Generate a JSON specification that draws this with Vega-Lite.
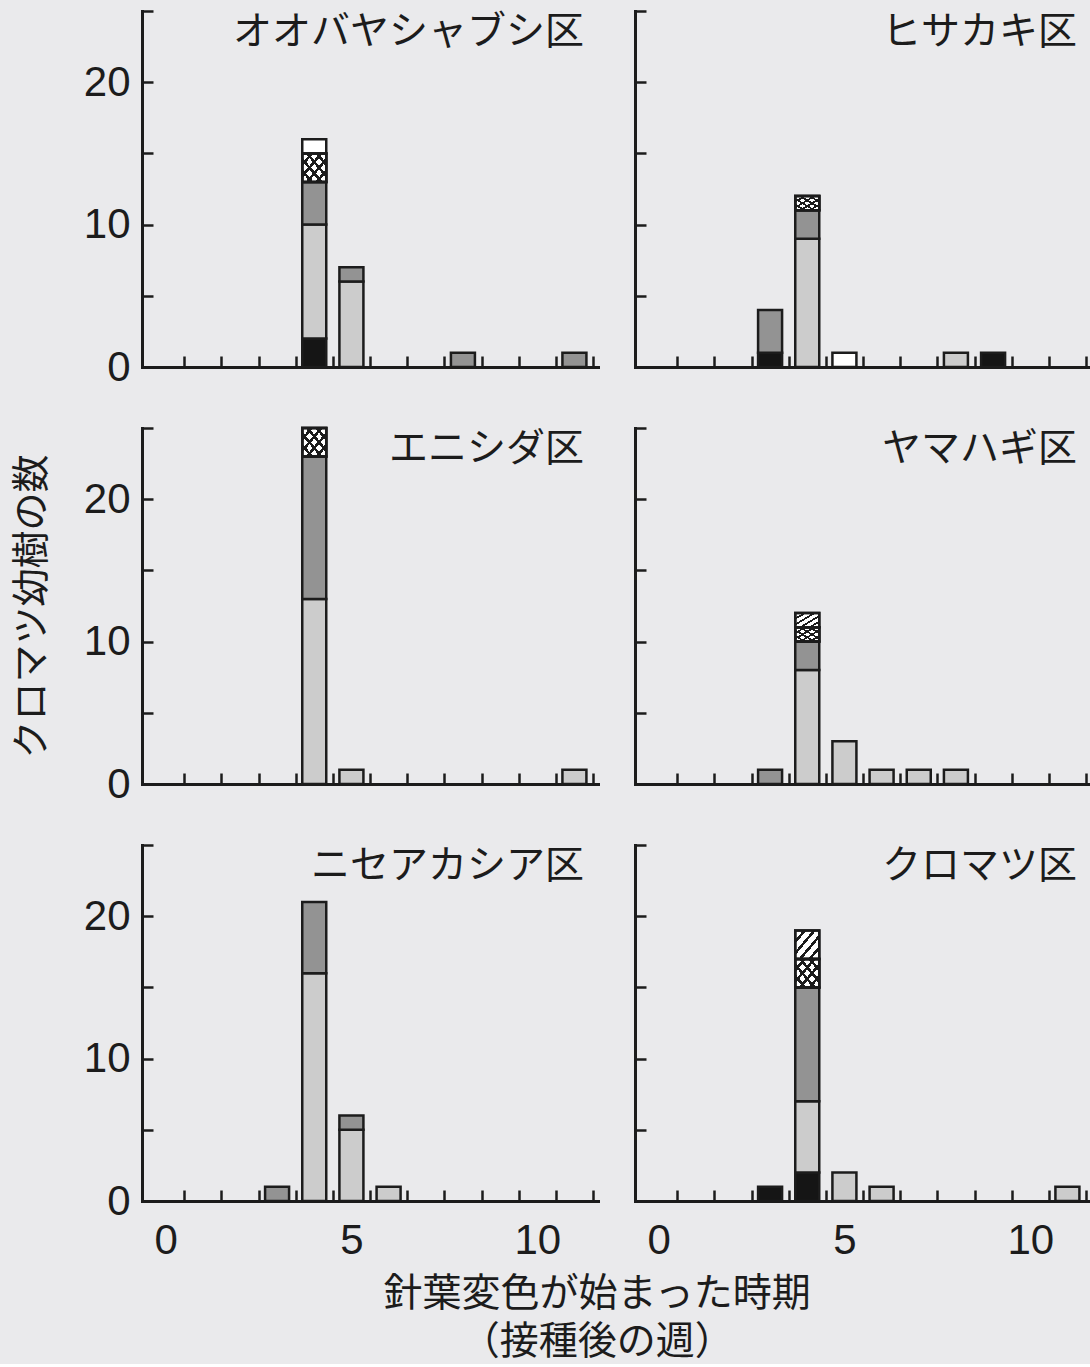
{
  "$schema": "https://vega.github.io/schema/vega-lite/v6.json",
  "background": "#eaeaec",
  "padding": {"left": 13, "right": 2, "top": 9, "bottom": 2},
  "datasets": {
    "types": [
      {"type": "solid", "rank": 1},
      {"type": "dots", "rank": 2},
      {"type": "dense", "rank": 3},
      {"type": "cross", "rank": 4},
      {"type": "hatch", "rank": 5},
      {"type": "open", "rank": 6}
    ],
    "d": [
      {"plot": "オオバヤシャブシ区", "week": 4, "type": "solid", "n": 2},
      {"plot": "オオバヤシャブシ区", "week": 4, "type": "dots", "n": 8},
      {"plot": "オオバヤシャブシ区", "week": 4, "type": "dense", "n": 3},
      {"plot": "オオバヤシャブシ区", "week": 4, "type": "cross", "n": 2},
      {"plot": "オオバヤシャブシ区", "week": 4, "type": "open", "n": 1},
      {"plot": "オオバヤシャブシ区", "week": 5, "type": "dots", "n": 6},
      {"plot": "オオバヤシャブシ区", "week": 5, "type": "dense", "n": 1},
      {"plot": "オオバヤシャブシ区", "week": 8, "type": "dense", "n": 1},
      {"plot": "オオバヤシャブシ区", "week": 11, "type": "dense", "n": 1},
      {"plot": "ヒサカキ区", "week": 3, "type": "solid", "n": 1},
      {"plot": "ヒサカキ区", "week": 3, "type": "dense", "n": 3},
      {"plot": "ヒサカキ区", "week": 4, "type": "dots", "n": 9},
      {"plot": "ヒサカキ区", "week": 4, "type": "dense", "n": 2},
      {"plot": "ヒサカキ区", "week": 4, "type": "cross", "n": 1},
      {"plot": "ヒサカキ区", "week": 5, "type": "open", "n": 1},
      {"plot": "ヒサカキ区", "week": 8, "type": "dots", "n": 1},
      {"plot": "ヒサカキ区", "week": 9, "type": "solid", "n": 1},
      {"plot": "エニシダ区", "week": 4, "type": "dots", "n": 13},
      {"plot": "エニシダ区", "week": 4, "type": "dense", "n": 10},
      {"plot": "エニシダ区", "week": 4, "type": "cross", "n": 2},
      {"plot": "エニシダ区", "week": 5, "type": "dots", "n": 1},
      {"plot": "エニシダ区", "week": 11, "type": "dots", "n": 1},
      {"plot": "ヤマハギ区", "week": 3, "type": "dense", "n": 1},
      {"plot": "ヤマハギ区", "week": 4, "type": "dots", "n": 8},
      {"plot": "ヤマハギ区", "week": 4, "type": "dense", "n": 2},
      {"plot": "ヤマハギ区", "week": 4, "type": "cross", "n": 1},
      {"plot": "ヤマハギ区", "week": 4, "type": "hatch", "n": 1},
      {"plot": "ヤマハギ区", "week": 5, "type": "dots", "n": 3},
      {"plot": "ヤマハギ区", "week": 6, "type": "dots", "n": 1},
      {"plot": "ヤマハギ区", "week": 7, "type": "dots", "n": 1},
      {"plot": "ヤマハギ区", "week": 8, "type": "dots", "n": 1},
      {"plot": "ニセアカシア区", "week": 3, "type": "dense", "n": 1},
      {"plot": "ニセアカシア区", "week": 4, "type": "dots", "n": 16},
      {"plot": "ニセアカシア区", "week": 4, "type": "dense", "n": 5},
      {"plot": "ニセアカシア区", "week": 5, "type": "dots", "n": 5},
      {"plot": "ニセアカシア区", "week": 5, "type": "dense", "n": 1},
      {"plot": "ニセアカシア区", "week": 6, "type": "dots", "n": 1},
      {"plot": "クロマツ区", "week": 3, "type": "solid", "n": 1},
      {"plot": "クロマツ区", "week": 4, "type": "solid", "n": 2},
      {"plot": "クロマツ区", "week": 4, "type": "dots", "n": 5},
      {"plot": "クロマツ区", "week": 4, "type": "dense", "n": 8},
      {"plot": "クロマツ区", "week": 4, "type": "cross", "n": 2},
      {"plot": "クロマツ区", "week": 4, "type": "hatch", "n": 2},
      {"plot": "クロマツ区", "week": 5, "type": "dots", "n": 2},
      {"plot": "クロマツ区", "week": 6, "type": "dots", "n": 1},
      {"plot": "クロマツ区", "week": 11, "type": "dots", "n": 1}
    ]
  },
  "title": {
    "text": ["針葉変色が始まった時期", "（接種後の週）"],
    "orient": "bottom",
    "anchor": "middle",
    "fontSize": 39,
    "lineHeight": 48,
    "offset": 19,
    "dx": 45,
    "dy": -5,
    "baseline": "top"
  },
  "columns": 2,
  "spacing": {"row": 38, "column": 35},
  "concat": [
    {
      "width": 456, "height": 356,
      "title": {"text": "オオバヤシャブシ区"},
      "data": {"name": "d"},
      "transform": [{"filter": {"field": "plot", "equal": "オオバヤシャブシ区"}},
                    {"lookup": "type", "from": {"data": {"name": "types"}, "key": "type", "fields": ["rank"]}},
                    {"stack": "n", "groupby": ["week"], "sort": [{"field": "rank", "order": "ascending"}], "as": ["y0", "y1"]}],
      "encoding": {
        "x": {"field": "week", "type": "quantitative", "scale": {"domain": [-0.5, 11.5], "nice": false, "zero": false},
              "axis": {"values": [0, 0.5, 1.5, 2.5, 3.5, 4.5, 5, 5.5, 6.5, 7.5, 8.5, 9.5, 10, 10.5, 11.5], "labels": false,
                       "tickColor": {"condition": {"test": "datum.value % 1 == 0", "value": "transparent"}, "value": "#1c1c1c"}}},
        "y": {"field": "y1", "type": "quantitative", "scale": {"domain": [0, 25], "nice": false},
              "axis": {"values": [0, 5, 10, 15, 20, 25], "labelExpr": "datum.value % 10 == 0 ? datum.label : ''",
                       "labelFontSize": {"condition": {"test": "datum.value % 10 != 0", "value": 0}, "value": 42}}},
        "y2": {"field": "y0"}
      },
      "layer": [
        {"mark": {"type": "bar", "width": 24, "stroke": "#1c1c1c", "strokeWidth": 2.5},
         "encoding": {"color": {"field": "type", "type": "nominal", "scale": {"domain": ["solid", "dots", "dense", "cross", "hatch", "open"], "range": ["#151515", "#cccccc", "#939393", "#ffffff", "#ffffff", "#ffffff"]}, "legend": null}}},
        {"transform": [{"filter": "datum.type == 'cross' || datum.type == 'hatch'"}],
         "mark": {"type": "bar", "width": 24, "stroke": "#1c1c1c", "strokeWidth": 2.5,
                  "fill": {"gradient": "linear", "x1": 0, "y1": 0, "x2": 1, "y2": 1, "stops": [{"offset": 0, "color": "rgba(0,0,0,0)"}, {"offset": 0.165, "color": "rgba(0,0,0,0)"}, {"offset": 0.165, "color": "#1c1c1c"}, {"offset": 0.235, "color": "#1c1c1c"}, {"offset": 0.235, "color": "rgba(0,0,0,0)"}, {"offset": 0.365, "color": "rgba(0,0,0,0)"}, {"offset": 0.365, "color": "#1c1c1c"}, {"offset": 0.435, "color": "#1c1c1c"}, {"offset": 0.435, "color": "rgba(0,0,0,0)"}, {"offset": 0.565, "color": "rgba(0,0,0,0)"}, {"offset": 0.565, "color": "#1c1c1c"}, {"offset": 0.635, "color": "#1c1c1c"}, {"offset": 0.635, "color": "rgba(0,0,0,0)"}, {"offset": 0.765, "color": "rgba(0,0,0,0)"}, {"offset": 0.765, "color": "#1c1c1c"}, {"offset": 0.835, "color": "#1c1c1c"}, {"offset": 0.835, "color": "rgba(0,0,0,0)"}, {"offset": 1, "color": "rgba(0,0,0,0)"}]}}},
        {"transform": [{"filter": "datum.type == 'cross'"}],
         "mark": {"type": "bar", "width": 24, "stroke": "#1c1c1c", "strokeWidth": 2.5,
                  "fill": {"gradient": "linear", "x1": 0, "y1": 1, "x2": 1, "y2": 0, "stops": [{"offset": 0, "color": "rgba(0,0,0,0)"}, {"offset": 0.165, "color": "rgba(0,0,0,0)"}, {"offset": 0.165, "color": "#1c1c1c"}, {"offset": 0.235, "color": "#1c1c1c"}, {"offset": 0.235, "color": "rgba(0,0,0,0)"}, {"offset": 0.365, "color": "rgba(0,0,0,0)"}, {"offset": 0.365, "color": "#1c1c1c"}, {"offset": 0.435, "color": "#1c1c1c"}, {"offset": 0.435, "color": "rgba(0,0,0,0)"}, {"offset": 0.565, "color": "rgba(0,0,0,0)"}, {"offset": 0.565, "color": "#1c1c1c"}, {"offset": 0.635, "color": "#1c1c1c"}, {"offset": 0.635, "color": "rgba(0,0,0,0)"}, {"offset": 0.765, "color": "rgba(0,0,0,0)"}, {"offset": 0.765, "color": "#1c1c1c"}, {"offset": 0.835, "color": "#1c1c1c"}, {"offset": 0.835, "color": "rgba(0,0,0,0)"}, {"offset": 1, "color": "rgba(0,0,0,0)"}]}}}
      ]
    },
    {
      "width": 456, "height": 356,
      "title": {"text": "ヒサカキ区"},
      "data": {"name": "d"},
      "transform": [{"filter": {"field": "plot", "equal": "ヒサカキ区"}},
                    {"lookup": "type", "from": {"data": {"name": "types"}, "key": "type", "fields": ["rank"]}},
                    {"stack": "n", "groupby": ["week"], "sort": [{"field": "rank", "order": "ascending"}], "as": ["y0", "y1"]}],
      "encoding": {
        "x": {"field": "week", "type": "quantitative", "scale": {"domain": [-0.5, 11.5], "nice": false, "zero": false},
              "axis": {"values": [0, 0.5, 1.5, 2.5, 3.5, 4.5, 5, 5.5, 6.5, 7.5, 8.5, 9.5, 10, 10.5, 11.5], "labels": false,
                       "tickColor": {"condition": {"test": "datum.value % 1 == 0", "value": "transparent"}, "value": "#1c1c1c"}}},
        "y": {"field": "y1", "type": "quantitative", "scale": {"domain": [0, 25], "nice": false},
              "axis": {"values": [0, 5, 10, 15, 20, 25], "labels": false}},
        "y2": {"field": "y0"}
      },
      "layer": [
        {"mark": {"type": "bar", "width": 24, "stroke": "#1c1c1c", "strokeWidth": 2.5},
         "encoding": {"color": {"field": "type", "type": "nominal", "scale": {"domain": ["solid", "dots", "dense", "cross", "hatch", "open"], "range": ["#151515", "#cccccc", "#939393", "#ffffff", "#ffffff", "#ffffff"]}, "legend": null}}},
        {"transform": [{"filter": "datum.type == 'cross' || datum.type == 'hatch'"}],
         "mark": {"type": "bar", "width": 24, "stroke": "#1c1c1c", "strokeWidth": 2.5,
                  "fill": {"gradient": "linear", "x1": 0, "y1": 0, "x2": 1, "y2": 1, "stops": [{"offset": 0, "color": "rgba(0,0,0,0)"}, {"offset": 0.165, "color": "rgba(0,0,0,0)"}, {"offset": 0.165, "color": "#1c1c1c"}, {"offset": 0.235, "color": "#1c1c1c"}, {"offset": 0.235, "color": "rgba(0,0,0,0)"}, {"offset": 0.365, "color": "rgba(0,0,0,0)"}, {"offset": 0.365, "color": "#1c1c1c"}, {"offset": 0.435, "color": "#1c1c1c"}, {"offset": 0.435, "color": "rgba(0,0,0,0)"}, {"offset": 0.565, "color": "rgba(0,0,0,0)"}, {"offset": 0.565, "color": "#1c1c1c"}, {"offset": 0.635, "color": "#1c1c1c"}, {"offset": 0.635, "color": "rgba(0,0,0,0)"}, {"offset": 0.765, "color": "rgba(0,0,0,0)"}, {"offset": 0.765, "color": "#1c1c1c"}, {"offset": 0.835, "color": "#1c1c1c"}, {"offset": 0.835, "color": "rgba(0,0,0,0)"}, {"offset": 1, "color": "rgba(0,0,0,0)"}]}}},
        {"transform": [{"filter": "datum.type == 'cross'"}],
         "mark": {"type": "bar", "width": 24, "stroke": "#1c1c1c", "strokeWidth": 2.5,
                  "fill": {"gradient": "linear", "x1": 0, "y1": 1, "x2": 1, "y2": 0, "stops": [{"offset": 0, "color": "rgba(0,0,0,0)"}, {"offset": 0.165, "color": "rgba(0,0,0,0)"}, {"offset": 0.165, "color": "#1c1c1c"}, {"offset": 0.235, "color": "#1c1c1c"}, {"offset": 0.235, "color": "rgba(0,0,0,0)"}, {"offset": 0.365, "color": "rgba(0,0,0,0)"}, {"offset": 0.365, "color": "#1c1c1c"}, {"offset": 0.435, "color": "#1c1c1c"}, {"offset": 0.435, "color": "rgba(0,0,0,0)"}, {"offset": 0.565, "color": "rgba(0,0,0,0)"}, {"offset": 0.565, "color": "#1c1c1c"}, {"offset": 0.635, "color": "#1c1c1c"}, {"offset": 0.635, "color": "rgba(0,0,0,0)"}, {"offset": 0.765, "color": "rgba(0,0,0,0)"}, {"offset": 0.765, "color": "#1c1c1c"}, {"offset": 0.835, "color": "#1c1c1c"}, {"offset": 0.835, "color": "rgba(0,0,0,0)"}, {"offset": 1, "color": "rgba(0,0,0,0)"}]}}}
      ]
    },
    {
      "width": 456, "height": 356,
      "title": {"text": "エニシダ区"},
      "data": {"name": "d"},
      "transform": [{"filter": {"field": "plot", "equal": "エニシダ区"}},
                    {"lookup": "type", "from": {"data": {"name": "types"}, "key": "type", "fields": ["rank"]}},
                    {"stack": "n", "groupby": ["week"], "sort": [{"field": "rank", "order": "ascending"}], "as": ["y0", "y1"]}],
      "encoding": {
        "x": {"field": "week", "type": "quantitative", "scale": {"domain": [-0.5, 11.5], "nice": false, "zero": false},
              "axis": {"values": [0, 0.5, 1.5, 2.5, 3.5, 4.5, 5, 5.5, 6.5, 7.5, 8.5, 9.5, 10, 10.5, 11.5], "labels": false,
                       "tickColor": {"condition": {"test": "datum.value % 1 == 0", "value": "transparent"}, "value": "#1c1c1c"}}},
        "y": {"field": "y1", "type": "quantitative", "scale": {"domain": [0, 25], "nice": false},
              "axis": {"values": [0, 5, 10, 15, 20, 25], "labelExpr": "datum.value % 10 == 0 ? datum.label : ''",
                       "labelFontSize": {"condition": {"test": "datum.value % 10 != 0", "value": 0}, "value": 42},
                       "title": "クロマツ幼樹の数", "titlePadding": 32}},
        "y2": {"field": "y0"}
      },
      "layer": [
        {"mark": {"type": "bar", "width": 24, "stroke": "#1c1c1c", "strokeWidth": 2.5},
         "encoding": {"color": {"field": "type", "type": "nominal", "scale": {"domain": ["solid", "dots", "dense", "cross", "hatch", "open"], "range": ["#151515", "#cccccc", "#939393", "#ffffff", "#ffffff", "#ffffff"]}, "legend": null}}},
        {"transform": [{"filter": "datum.type == 'cross' || datum.type == 'hatch'"}],
         "mark": {"type": "bar", "width": 24, "stroke": "#1c1c1c", "strokeWidth": 2.5,
                  "fill": {"gradient": "linear", "x1": 0, "y1": 0, "x2": 1, "y2": 1, "stops": [{"offset": 0, "color": "rgba(0,0,0,0)"}, {"offset": 0.165, "color": "rgba(0,0,0,0)"}, {"offset": 0.165, "color": "#1c1c1c"}, {"offset": 0.235, "color": "#1c1c1c"}, {"offset": 0.235, "color": "rgba(0,0,0,0)"}, {"offset": 0.365, "color": "rgba(0,0,0,0)"}, {"offset": 0.365, "color": "#1c1c1c"}, {"offset": 0.435, "color": "#1c1c1c"}, {"offset": 0.435, "color": "rgba(0,0,0,0)"}, {"offset": 0.565, "color": "rgba(0,0,0,0)"}, {"offset": 0.565, "color": "#1c1c1c"}, {"offset": 0.635, "color": "#1c1c1c"}, {"offset": 0.635, "color": "rgba(0,0,0,0)"}, {"offset": 0.765, "color": "rgba(0,0,0,0)"}, {"offset": 0.765, "color": "#1c1c1c"}, {"offset": 0.835, "color": "#1c1c1c"}, {"offset": 0.835, "color": "rgba(0,0,0,0)"}, {"offset": 1, "color": "rgba(0,0,0,0)"}]}}},
        {"transform": [{"filter": "datum.type == 'cross'"}],
         "mark": {"type": "bar", "width": 24, "stroke": "#1c1c1c", "strokeWidth": 2.5,
                  "fill": {"gradient": "linear", "x1": 0, "y1": 1, "x2": 1, "y2": 0, "stops": [{"offset": 0, "color": "rgba(0,0,0,0)"}, {"offset": 0.165, "color": "rgba(0,0,0,0)"}, {"offset": 0.165, "color": "#1c1c1c"}, {"offset": 0.235, "color": "#1c1c1c"}, {"offset": 0.235, "color": "rgba(0,0,0,0)"}, {"offset": 0.365, "color": "rgba(0,0,0,0)"}, {"offset": 0.365, "color": "#1c1c1c"}, {"offset": 0.435, "color": "#1c1c1c"}, {"offset": 0.435, "color": "rgba(0,0,0,0)"}, {"offset": 0.565, "color": "rgba(0,0,0,0)"}, {"offset": 0.565, "color": "#1c1c1c"}, {"offset": 0.635, "color": "#1c1c1c"}, {"offset": 0.635, "color": "rgba(0,0,0,0)"}, {"offset": 0.765, "color": "rgba(0,0,0,0)"}, {"offset": 0.765, "color": "#1c1c1c"}, {"offset": 0.835, "color": "#1c1c1c"}, {"offset": 0.835, "color": "rgba(0,0,0,0)"}, {"offset": 1, "color": "rgba(0,0,0,0)"}]}}}
      ]
    },
    {
      "width": 456, "height": 356,
      "title": {"text": "ヤマハギ区"},
      "data": {"name": "d"},
      "transform": [{"filter": {"field": "plot", "equal": "ヤマハギ区"}},
                    {"lookup": "type", "from": {"data": {"name": "types"}, "key": "type", "fields": ["rank"]}},
                    {"stack": "n", "groupby": ["week"], "sort": [{"field": "rank", "order": "ascending"}], "as": ["y0", "y1"]}],
      "encoding": {
        "x": {"field": "week", "type": "quantitative", "scale": {"domain": [-0.5, 11.5], "nice": false, "zero": false},
              "axis": {"values": [0, 0.5, 1.5, 2.5, 3.5, 4.5, 5, 5.5, 6.5, 7.5, 8.5, 9.5, 10, 10.5, 11.5], "labels": false,
                       "tickColor": {"condition": {"test": "datum.value % 1 == 0", "value": "transparent"}, "value": "#1c1c1c"}}},
        "y": {"field": "y1", "type": "quantitative", "scale": {"domain": [0, 25], "nice": false},
              "axis": {"values": [0, 5, 10, 15, 20, 25], "labels": false}},
        "y2": {"field": "y0"}
      },
      "layer": [
        {"mark": {"type": "bar", "width": 24, "stroke": "#1c1c1c", "strokeWidth": 2.5},
         "encoding": {"color": {"field": "type", "type": "nominal", "scale": {"domain": ["solid", "dots", "dense", "cross", "hatch", "open"], "range": ["#151515", "#cccccc", "#939393", "#ffffff", "#ffffff", "#ffffff"]}, "legend": null}}},
        {"transform": [{"filter": "datum.type == 'cross' || datum.type == 'hatch'"}],
         "mark": {"type": "bar", "width": 24, "stroke": "#1c1c1c", "strokeWidth": 2.5,
                  "fill": {"gradient": "linear", "x1": 0, "y1": 0, "x2": 1, "y2": 1, "stops": [{"offset": 0, "color": "rgba(0,0,0,0)"}, {"offset": 0.165, "color": "rgba(0,0,0,0)"}, {"offset": 0.165, "color": "#1c1c1c"}, {"offset": 0.235, "color": "#1c1c1c"}, {"offset": 0.235, "color": "rgba(0,0,0,0)"}, {"offset": 0.365, "color": "rgba(0,0,0,0)"}, {"offset": 0.365, "color": "#1c1c1c"}, {"offset": 0.435, "color": "#1c1c1c"}, {"offset": 0.435, "color": "rgba(0,0,0,0)"}, {"offset": 0.565, "color": "rgba(0,0,0,0)"}, {"offset": 0.565, "color": "#1c1c1c"}, {"offset": 0.635, "color": "#1c1c1c"}, {"offset": 0.635, "color": "rgba(0,0,0,0)"}, {"offset": 0.765, "color": "rgba(0,0,0,0)"}, {"offset": 0.765, "color": "#1c1c1c"}, {"offset": 0.835, "color": "#1c1c1c"}, {"offset": 0.835, "color": "rgba(0,0,0,0)"}, {"offset": 1, "color": "rgba(0,0,0,0)"}]}}},
        {"transform": [{"filter": "datum.type == 'cross'"}],
         "mark": {"type": "bar", "width": 24, "stroke": "#1c1c1c", "strokeWidth": 2.5,
                  "fill": {"gradient": "linear", "x1": 0, "y1": 1, "x2": 1, "y2": 0, "stops": [{"offset": 0, "color": "rgba(0,0,0,0)"}, {"offset": 0.165, "color": "rgba(0,0,0,0)"}, {"offset": 0.165, "color": "#1c1c1c"}, {"offset": 0.235, "color": "#1c1c1c"}, {"offset": 0.235, "color": "rgba(0,0,0,0)"}, {"offset": 0.365, "color": "rgba(0,0,0,0)"}, {"offset": 0.365, "color": "#1c1c1c"}, {"offset": 0.435, "color": "#1c1c1c"}, {"offset": 0.435, "color": "rgba(0,0,0,0)"}, {"offset": 0.565, "color": "rgba(0,0,0,0)"}, {"offset": 0.565, "color": "#1c1c1c"}, {"offset": 0.635, "color": "#1c1c1c"}, {"offset": 0.635, "color": "rgba(0,0,0,0)"}, {"offset": 0.765, "color": "rgba(0,0,0,0)"}, {"offset": 0.765, "color": "#1c1c1c"}, {"offset": 0.835, "color": "#1c1c1c"}, {"offset": 0.835, "color": "rgba(0,0,0,0)"}, {"offset": 1, "color": "rgba(0,0,0,0)"}]}}}
      ]
    },
    {
      "width": 456, "height": 356,
      "title": {"text": "ニセアカシア区"},
      "data": {"name": "d"},
      "transform": [{"filter": {"field": "plot", "equal": "ニセアカシア区"}},
                    {"lookup": "type", "from": {"data": {"name": "types"}, "key": "type", "fields": ["rank"]}},
                    {"stack": "n", "groupby": ["week"], "sort": [{"field": "rank", "order": "ascending"}], "as": ["y0", "y1"]}],
      "encoding": {
        "x": {"field": "week", "type": "quantitative", "scale": {"domain": [-0.5, 11.5], "nice": false, "zero": false},
              "axis": {"values": [0, 0.5, 1.5, 2.5, 3.5, 4.5, 5, 5.5, 6.5, 7.5, 8.5, 9.5, 10, 10.5, 11.5],
                       "labelExpr": "datum.value % 5 == 0 ? datum.label : ''", "labelPadding": 30, "labelDx": 6,
                       "tickColor": {"condition": {"test": "datum.value % 1 == 0", "value": "transparent"}, "value": "#1c1c1c"}}},
        "y": {"field": "y1", "type": "quantitative", "scale": {"domain": [0, 25], "nice": false},
              "axis": {"values": [0, 5, 10, 15, 20, 25], "labelExpr": "datum.value % 10 == 0 ? datum.label : ''",
                       "labelFontSize": {"condition": {"test": "datum.value % 10 != 0", "value": 0}, "value": 42}}},
        "y2": {"field": "y0"}
      },
      "layer": [
        {"mark": {"type": "bar", "width": 24, "stroke": "#1c1c1c", "strokeWidth": 2.5},
         "encoding": {"color": {"field": "type", "type": "nominal", "scale": {"domain": ["solid", "dots", "dense", "cross", "hatch", "open"], "range": ["#151515", "#cccccc", "#939393", "#ffffff", "#ffffff", "#ffffff"]}, "legend": null}}},
        {"transform": [{"filter": "datum.type == 'cross' || datum.type == 'hatch'"}],
         "mark": {"type": "bar", "width": 24, "stroke": "#1c1c1c", "strokeWidth": 2.5,
                  "fill": {"gradient": "linear", "x1": 0, "y1": 0, "x2": 1, "y2": 1, "stops": [{"offset": 0, "color": "rgba(0,0,0,0)"}, {"offset": 0.165, "color": "rgba(0,0,0,0)"}, {"offset": 0.165, "color": "#1c1c1c"}, {"offset": 0.235, "color": "#1c1c1c"}, {"offset": 0.235, "color": "rgba(0,0,0,0)"}, {"offset": 0.365, "color": "rgba(0,0,0,0)"}, {"offset": 0.365, "color": "#1c1c1c"}, {"offset": 0.435, "color": "#1c1c1c"}, {"offset": 0.435, "color": "rgba(0,0,0,0)"}, {"offset": 0.565, "color": "rgba(0,0,0,0)"}, {"offset": 0.565, "color": "#1c1c1c"}, {"offset": 0.635, "color": "#1c1c1c"}, {"offset": 0.635, "color": "rgba(0,0,0,0)"}, {"offset": 0.765, "color": "rgba(0,0,0,0)"}, {"offset": 0.765, "color": "#1c1c1c"}, {"offset": 0.835, "color": "#1c1c1c"}, {"offset": 0.835, "color": "rgba(0,0,0,0)"}, {"offset": 1, "color": "rgba(0,0,0,0)"}]}}},
        {"transform": [{"filter": "datum.type == 'cross'"}],
         "mark": {"type": "bar", "width": 24, "stroke": "#1c1c1c", "strokeWidth": 2.5,
                  "fill": {"gradient": "linear", "x1": 0, "y1": 1, "x2": 1, "y2": 0, "stops": [{"offset": 0, "color": "rgba(0,0,0,0)"}, {"offset": 0.165, "color": "rgba(0,0,0,0)"}, {"offset": 0.165, "color": "#1c1c1c"}, {"offset": 0.235, "color": "#1c1c1c"}, {"offset": 0.235, "color": "rgba(0,0,0,0)"}, {"offset": 0.365, "color": "rgba(0,0,0,0)"}, {"offset": 0.365, "color": "#1c1c1c"}, {"offset": 0.435, "color": "#1c1c1c"}, {"offset": 0.435, "color": "rgba(0,0,0,0)"}, {"offset": 0.565, "color": "rgba(0,0,0,0)"}, {"offset": 0.565, "color": "#1c1c1c"}, {"offset": 0.635, "color": "#1c1c1c"}, {"offset": 0.635, "color": "rgba(0,0,0,0)"}, {"offset": 0.765, "color": "rgba(0,0,0,0)"}, {"offset": 0.765, "color": "#1c1c1c"}, {"offset": 0.835, "color": "#1c1c1c"}, {"offset": 0.835, "color": "rgba(0,0,0,0)"}, {"offset": 1, "color": "rgba(0,0,0,0)"}]}}}
      ]
    },
    {
      "width": 456, "height": 356,
      "title": {"text": "クロマツ区"},
      "data": {"name": "d"},
      "transform": [{"filter": {"field": "plot", "equal": "クロマツ区"}},
                    {"lookup": "type", "from": {"data": {"name": "types"}, "key": "type", "fields": ["rank"]}},
                    {"stack": "n", "groupby": ["week"], "sort": [{"field": "rank", "order": "ascending"}], "as": ["y0", "y1"]}],
      "encoding": {
        "x": {"field": "week", "type": "quantitative", "scale": {"domain": [-0.5, 11.5], "nice": false, "zero": false},
              "axis": {"values": [0, 0.5, 1.5, 2.5, 3.5, 4.5, 5, 5.5, 6.5, 7.5, 8.5, 9.5, 10, 10.5, 11.5],
                       "labelExpr": "datum.value % 5 == 0 ? datum.label : ''", "labelPadding": 30, "labelDx": 6,
                       "tickColor": {"condition": {"test": "datum.value % 1 == 0", "value": "transparent"}, "value": "#1c1c1c"}}},
        "y": {"field": "y1", "type": "quantitative", "scale": {"domain": [0, 25], "nice": false},
              "axis": {"values": [0, 5, 10, 15, 20, 25], "labels": false}},
        "y2": {"field": "y0"}
      },
      "layer": [
        {"mark": {"type": "bar", "width": 24, "stroke": "#1c1c1c", "strokeWidth": 2.5},
         "encoding": {"color": {"field": "type", "type": "nominal", "scale": {"domain": ["solid", "dots", "dense", "cross", "hatch", "open"], "range": ["#151515", "#cccccc", "#939393", "#ffffff", "#ffffff", "#ffffff"]}, "legend": null}}},
        {"transform": [{"filter": "datum.type == 'cross' || datum.type == 'hatch'"}],
         "mark": {"type": "bar", "width": 24, "stroke": "#1c1c1c", "strokeWidth": 2.5,
                  "fill": {"gradient": "linear", "x1": 0, "y1": 0, "x2": 1, "y2": 1, "stops": [{"offset": 0, "color": "rgba(0,0,0,0)"}, {"offset": 0.165, "color": "rgba(0,0,0,0)"}, {"offset": 0.165, "color": "#1c1c1c"}, {"offset": 0.235, "color": "#1c1c1c"}, {"offset": 0.235, "color": "rgba(0,0,0,0)"}, {"offset": 0.365, "color": "rgba(0,0,0,0)"}, {"offset": 0.365, "color": "#1c1c1c"}, {"offset": 0.435, "color": "#1c1c1c"}, {"offset": 0.435, "color": "rgba(0,0,0,0)"}, {"offset": 0.565, "color": "rgba(0,0,0,0)"}, {"offset": 0.565, "color": "#1c1c1c"}, {"offset": 0.635, "color": "#1c1c1c"}, {"offset": 0.635, "color": "rgba(0,0,0,0)"}, {"offset": 0.765, "color": "rgba(0,0,0,0)"}, {"offset": 0.765, "color": "#1c1c1c"}, {"offset": 0.835, "color": "#1c1c1c"}, {"offset": 0.835, "color": "rgba(0,0,0,0)"}, {"offset": 1, "color": "rgba(0,0,0,0)"}]}}},
        {"transform": [{"filter": "datum.type == 'cross'"}],
         "mark": {"type": "bar", "width": 24, "stroke": "#1c1c1c", "strokeWidth": 2.5,
                  "fill": {"gradient": "linear", "x1": 0, "y1": 1, "x2": 1, "y2": 0, "stops": [{"offset": 0, "color": "rgba(0,0,0,0)"}, {"offset": 0.165, "color": "rgba(0,0,0,0)"}, {"offset": 0.165, "color": "#1c1c1c"}, {"offset": 0.235, "color": "#1c1c1c"}, {"offset": 0.235, "color": "rgba(0,0,0,0)"}, {"offset": 0.365, "color": "rgba(0,0,0,0)"}, {"offset": 0.365, "color": "#1c1c1c"}, {"offset": 0.435, "color": "#1c1c1c"}, {"offset": 0.435, "color": "rgba(0,0,0,0)"}, {"offset": 0.565, "color": "rgba(0,0,0,0)"}, {"offset": 0.565, "color": "#1c1c1c"}, {"offset": 0.635, "color": "#1c1c1c"}, {"offset": 0.635, "color": "rgba(0,0,0,0)"}, {"offset": 0.765, "color": "rgba(0,0,0,0)"}, {"offset": 0.765, "color": "#1c1c1c"}, {"offset": 0.835, "color": "#1c1c1c"}, {"offset": 0.835, "color": "rgba(0,0,0,0)"}, {"offset": 1, "color": "rgba(0,0,0,0)"}]}}}
      ]
    }
  ],
  "config": {
    "view": {"stroke": null},
    "font": "Noto Sans CJK JP",
    "title": {"font": "Noto Sans CJK JP", "fontSize": 39, "fontWeight": "normal", "color": "#1c1c1c", "anchor": "end", "baseline": "top", "offset": 0, "dy": 46, "dx": -14},
    "axis": {
      "grid": false,
      "title": null,
      "domainColor": "#1c1c1c",
      "domainWidth": 3,
      "domainCap": "square",
      "tickColor": "#1c1c1c",
      "tickWidth": 2.5,
      "tickSize": -11,
      "labelFont": "Liberation Sans",
      "labelFontSize": 42,
      "labelColor": "#1c1c1c",
      "labelPadding": 23,
      "labelOverlap": false,
      "labelFlush": false,
      "labelBound": false,
      "minExtent": 0,
      "titleFont": "Noto Sans CJK JP",
      "titleFontSize": 38,
      "titleFontWeight": "normal",
      "titleColor": "#1c1c1c"
    }
  }
}
